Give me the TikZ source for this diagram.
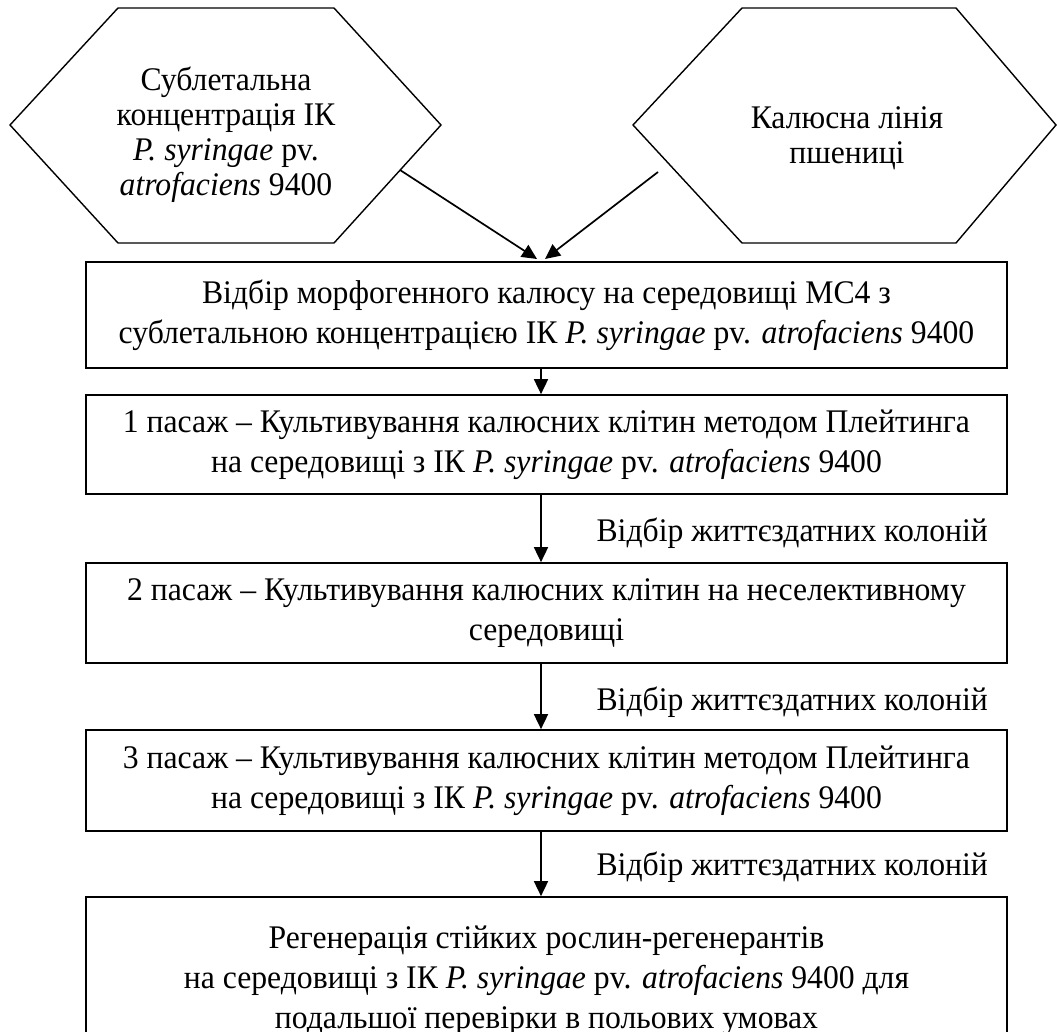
\documentclass[tikz,border=0pt]{standalone}
\usepackage{fontspec}
\setmainfont[FakeStretch=0.96]{Liberation Serif}
\usetikzlibrary{arrows.meta}
\begin{document}
\begin{tikzpicture}[x=1pt,y=-1pt,
  txt/.style={font=\fontsize{33}{40}\selectfont, align=center, inner sep=0pt},
  box/.style={txt, draw, line width=1.7pt, minimum width=921pt},
  hexline/.style={draw, line width=1.4pt, line join=miter},
  arr/.style={line width=1.7pt, -{Triangle[length=15pt,width=14pt]}},
  lbl/.style={font=\fontsize{33}{40}\selectfont, inner sep=0pt, anchor=east}]
\useasboundingbox (0,0) rectangle (1057,1032);
\fill[white] (0,0) rectangle (1057,1032);
\clip (0,0) rectangle (1057,1032);

% hexagons
\draw[hexline] (10,125) coordinate (hl-w) -- (118,8) -- (334,8) -- (441,125) coordinate (hl-e) -- (334,243) -- (118,243) -- cycle;
\node[txt, font=\fontsize{33}{35}\selectfont] (hexL) at (226,135) {Сублетальна\\концентрація ІК\\\textit{P. syringae} pv.\\\textit{atrofaciens} 9400};

\draw[hexline] (633,125) coordinate (hr-w) -- (742,8) -- (956,8) -- (1056,125) coordinate (hr-e) -- (956,243) -- (742,243) -- cycle;
\node[txt, font=\fontsize{33}{35}\selectfont] (hexR) at (847,138) {Калюсна лінія\\пшениці};

% boxes
\node[box, minimum height=106pt] (b1) at (546.5,315) {Відбір морфогенного калюсу на середовищі МС4 з\\сублетальною концентрацією ІК \textit{P. syringae} pv. \textit{atrofaciens} 9400};
\node[box, minimum height=99pt] (b2) at (546.5,444.5) {1 пасаж – Культивування калюсних клітин методом Плейтинга\\на середовищі з ІК \textit{P. syringae} pv. \textit{atrofaciens} 9400};
\node[box, minimum height=100pt] (b3) at (546.5,613) {2 пасаж – Культивування калюсних клітин на неселективному\\середовищі};
\node[box, minimum height=101pt] (b4) at (546.5,780.5) {3 пасаж – Культивування калюсних клітин методом Плейтинга\\на середовищі з ІК \textit{P. syringae} pv. \textit{atrofaciens} 9400};
\node[box, minimum height=168pt] (b5) at (546.5,981) {Регенерація стійких рослин-регенерантів\\на середовищі з ІК \textit{P. syringae} pv. \textit{atrofaciens} 9400 для\\подальшої перевірки в польових умовах};

% arrows from hexagons
\coordinate (s1) at (400,170);
\coordinate (s2) at (658,172);
\coordinate (t1) at (537,259);
\coordinate (t2) at (545,259);
\draw[arr] (s1) -- (t1);
\draw[arr] (s2) -- (t2);

% vertical arrows
\coordinate (ax) at (541,0);
\draw[arr] (b1.south -| ax) -- (b2.north -| ax);
\draw[arr] (b2.south -| ax) -- (b3.north -| ax);
\draw[arr] (b3.south -| ax) -- (b4.north -| ax);
\draw[arr] (b4.south -| ax) -- (b5.north -| ax);

% labels
\node[lbl] (l1) at (988,533) {Відбір життєздатних колоній};
\node[lbl] (l2) at (988,702) {Відбір життєздатних колоній};
\node[lbl] (l3) at (988,867) {Відбір життєздатних колоній};
\end{tikzpicture}
\end{document}
